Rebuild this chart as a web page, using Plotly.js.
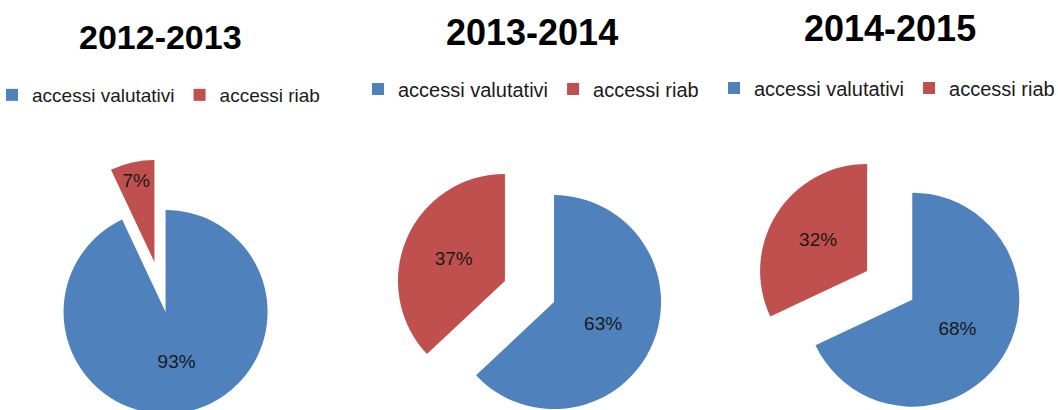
<!DOCTYPE html>
<html>
<head>
<meta charset="utf-8">
<script src="https://cdn.plot.ly/plotly-3.0.1.min.js"></script>
<style>
  html, body { margin: 0; padding: 0; background: #fff; overflow: hidden; }
  #chart { width: 1058px; height: 430px; }
</style>
</head>
<body>
<div id="chart"></div>
<script>
// ---- data ----
const seasons = ['2012-2013', '2013-2014', '2014-2015'];
const categories = ['accessi valutativi', 'accessi riab'];
const valutativi = [93, 63, 68];
const riab = [7, 37, 32];

// ---- styling / layout geometry ----
const W = 1058, H = 430;
const colors = ['#4F81BD', '#C0504D'];
const pullFrac = 0.25;
const pieCx = [160, 529.5, 889.7];
const pieCy = [287, 291.5, 285.3];
const pieR = [102, 107, 107];
const titleX = [160.5, 531.5, 890];
const titleY = [37, 32, 28];
const titleSize = [34, 36, 36];
const legendX = [-8, 358, 714];
const legendY = [95, 89, 88];
const legendSize = [19, 20, 20];
const legendNames = ['legend', 'legend2', 'legend3'];

const traces = seasons.map((s, i) => {
  const half = pieR[i] * (1 + pullFrac);
  return {
    type: 'pie',
    name: s,
    labels: categories,
    values: [valutativi[i], riab[i]],
    sort: false,
    direction: 'clockwise',
    rotation: 0,
    pull: [pullFrac, pullFrac],
    marker: { colors: colors, line: { width: 0 } },
    textinfo: 'percent',
    textposition: 'inside',
    insidetextorientation: 'horizontal',
    textfont: { family: 'Liberation Sans, Arial, sans-serif', size: 19, color: '#1a1a1a' },
    hoverinfo: 'skip',
    legend: legendNames[i],
    legendgroup: 'season' + i,
    domain: {
      x: [(pieCx[i] - half) / W, (pieCx[i] + half) / W],
      y: [(H - pieCy[i] - half) / H, (H - pieCy[i] + half) / H]
    }
  };
});

const layout = {
  width: W,
  height: H,
  margin: { l: 0, r: 0, t: 0, b: 0, autoexpand: false },
  paper_bgcolor: '#ffffff',
  plot_bgcolor: '#ffffff',
  showlegend: true,
  uniformtext: { mode: 'show', minsize: 19 },
  annotations: seasons.map((s, i) => ({
    text: '<b>' + s + '</b>',
    xref: 'paper', yref: 'paper',
    x: titleX[i] / W, y: 1 - titleY[i] / H,
    xanchor: 'center', yanchor: 'middle',
    showarrow: false,
    font: { family: 'Liberation Sans, Arial, sans-serif', size: titleSize[i], color: '#000000' }
  }))
};

legendNames.forEach((ln, i) => {
  layout[ln] = {
    orientation: 'h',
    traceorder: 'normal',
    x: legendX[i] / W,
    y: 1 - legendY[i] / H,
    xanchor: 'left',
    yanchor: 'middle',
    bgcolor: 'rgba(0,0,0,0)',
    borderwidth: 0,
    font: { family: 'Liberation Sans, Arial, sans-serif', size: legendSize[i], color: '#1a1a1a' }
  };
});

Plotly.newPlot('chart', traces, layout, { staticPlot: true, displayModeBar: false });
</script>
</body>
</html>
